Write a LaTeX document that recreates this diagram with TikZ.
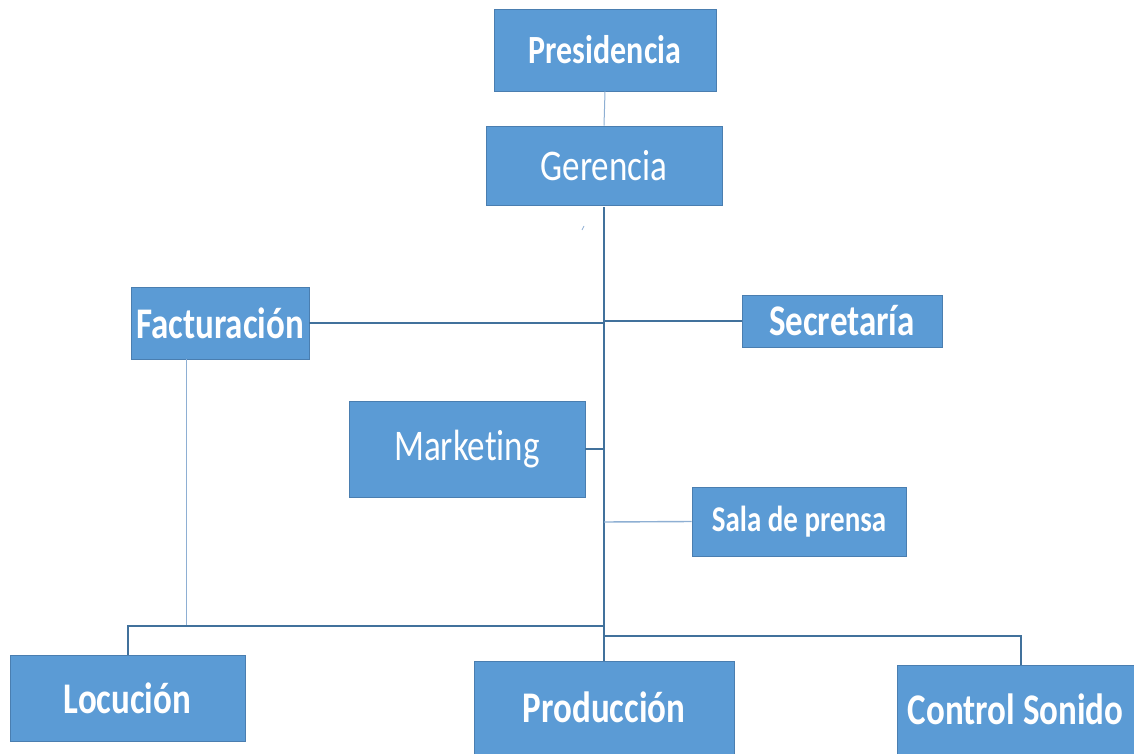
\documentclass[tikz,border=0pt]{standalone}
\usepackage{fontspec}
\setmainfont{Carlito}[Ligatures=NoCommon]
\usepackage{graphicx}
\definecolor{boxfill}{HTML}{5B9BD5}
\definecolor{boxline}{HTML}{4A7EB0}
\definecolor{conn}{HTML}{41719C}
\definecolor{thinconn}{HTML}{8EAFD3}
\newcommand{\txtB}[2]{\scalebox{1}[1.25]{\fontsize{#1}{#1}\selectfont\bfseries #2}}
\newcommand{\txtR}[2]{\scalebox{1}[1.25]{\fontsize{#1}{#1}\selectfont #2}}
\begin{document}
\begin{tikzpicture}[x=1pt,y=-1pt,
  orgbox/.style={draw=boxline,line width=0.8pt,fill=boxfill,text=white,inner sep=0pt,anchor=center},
  mainline/.style={draw=conn,line width=2.4pt},
  branch/.style={draw=conn,line width=1.8pt},
  thinline/.style={draw=thinconn,line width=1pt}]
\useasboundingbox (0,0) rectangle (1134,754);
% boxes
\node[orgbox,minimum width=222pt,minimum height=82pt] (pres) at (605,50) {\txtB{32}{Presidencia}};
\node[orgbox,minimum width=236pt,minimum height=79pt] (ger) at (604,165.5) {\txtR{35}{Gerencia}};
\node[orgbox,minimum width=178pt,minimum height=72pt] (fact) at (220,323) {\txtB{35}{Facturación}};
\node[orgbox,minimum width=200pt,minimum height=52pt] (sec) at (842,321) {\txtB{35}{Secretaría}};
\node[orgbox,minimum width=236pt,minimum height=96pt] (mkt) at (467,449) {\txtR{35}{Marketing}};
\node[orgbox,minimum width=214pt,minimum height=69pt] (sala) at (799,521.5) {\txtB{29}{Sala de prensa}};
\node[orgbox,minimum width=235pt,minimum height=86pt] (loc) at (127.5,698) {\txtB{35}{Locución}};
\node[orgbox,minimum width=260pt,minimum height=93pt] (prod) at (604,707.5) {\txtB{35}{Producción}};
\node[orgbox,minimum width=237pt,minimum height=89pt] (ctrl) at (1015.5,709.5) {\txtB{35}{Control Sonido}};
% coordinates
\coordinate (mtop) at (604,207);
\coordinate (jm) at (604,449);
\coordinate (js) at (604,522);
\coordinate (jl) at (604,626);
\coordinate (jc) at (604,636);
\coordinate (lcorner) at (128,626);
\coordinate (ccorner) at (1021,636);
\coordinate (fdown) at (186,626);
\coordinate (ftop) at (186,359);
% connectors
\draw[thinline] (pres.south) -- (ger.north);
\draw[mainline] (mtop) -- (jc);
\draw[branch] (fact.east) -- (fact.east -| mtop);
\draw[branch] (sec.west -| mtop) -- (sec.west);
\draw[branch] (mkt.east) -- (jm);
\draw[thinline,line width=1.4pt] (js) -- (sala.west);
\draw[thinline] (ftop) -- (fdown);
\draw[branch] (jl) -- (lcorner) -- (loc.north -| lcorner);
\draw[branch] (jc) -- (ccorner) -- (ctrl.north -| ccorner);
\draw[branch] (jc) -- (prod.north);
% small stray tick
\draw[thinline,line width=0.8pt] (582,230) -- (584,226);
\end{tikzpicture}
\end{document}
